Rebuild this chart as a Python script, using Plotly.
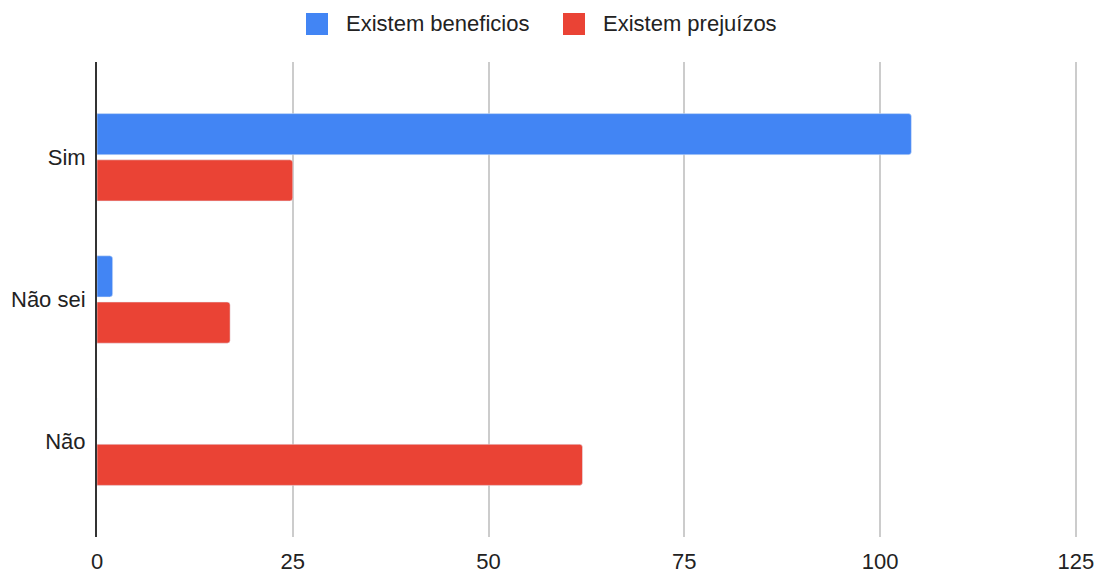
import plotly.graph_objects as go

# Survey answers and counts per series
categories = ["Sim", "Não sei", "Não"]
beneficios = [104, 2, 0]
prejuizos = [25, 17, 62]
series_names = ["Existem beneficios", "Existem prejuízos"]
x_ticks = [0, 25, 50, 75, 100, 125]

BLUE = "#4285F4"
RED = "#EA4335"
FONT = "Liberation Sans, Arial, sans-serif"
FS = 22

W, H = 1101, 575
M_L, M_R, M_T, M_B = 97, 24, 62, 38

fig = go.Figure()
fig.add_trace(go.Bar(y=categories, x=beneficios, orientation="h", name=series_names[0],
                     marker=dict(color=BLUE, cornerradius=3), showlegend=False))
fig.add_trace(go.Bar(y=categories, x=prejuizos, orientation="h", name=series_names[1],
                     marker=dict(color=RED, cornerradius=3), showlegend=False))

# Custom legend: large squares with labels above the plot
pw = W - M_L - M_R
ph = H - M_T - M_B


def px_x(px):
    return (px - M_L) / pw


def px_y(py):
    return (H - M_B - py) / ph


shapes = []
annotations = []
for (sq_left, txt_left), name, color in zip([(306, 344), (563, 601)], series_names, [BLUE, RED]):
    shapes.append(dict(type="rect", xref="paper", yref="paper",
                       x0=px_x(sq_left), x1=px_x(sq_left + 22),
                       y0=px_y(35), y1=px_y(13),
                       fillcolor=color, line=dict(width=0)))
    annotations.append(dict(xref="paper", yref="paper", x=px_x(txt_left), y=px_y(24),
                            text=name, showarrow=False, xanchor="left", yanchor="middle",
                            font=dict(family=FONT, size=FS, color="#222222")))

fig.update_layout(
    width=W, height=H,
    margin=dict(l=M_L, r=M_R, t=M_T, b=M_B, pad=0, autoexpand=False),
    paper_bgcolor="white", plot_bgcolor="white",
    barmode="group", bargap=0.35, bargroupgap=0.11,
    font=dict(family=FONT, size=FS, color="#222222"),
    shapes=shapes, annotations=annotations,
    showlegend=False,
)
fig.update_xaxes(range=[0, 125.15], tickvals=x_ticks, showgrid=True, gridcolor="#cccccc",
                 gridwidth=2, zeroline=False, showline=False, ticks="", automargin=False,
                 ticklabelstandoff=9, tickfont=dict(size=FS, color="#222222"))
fig.update_yaxes(categoryorder="array", categoryarray=categories,
                 range=[2.67, -0.67], showgrid=False, zeroline=False, automargin=False,
                 showline=True, linecolor="#333333", linewidth=2, ticks="",
                 ticklabelstandoff=5, tickfont=dict(size=FS, color="#222222"))

fig.write_html("out.html")
